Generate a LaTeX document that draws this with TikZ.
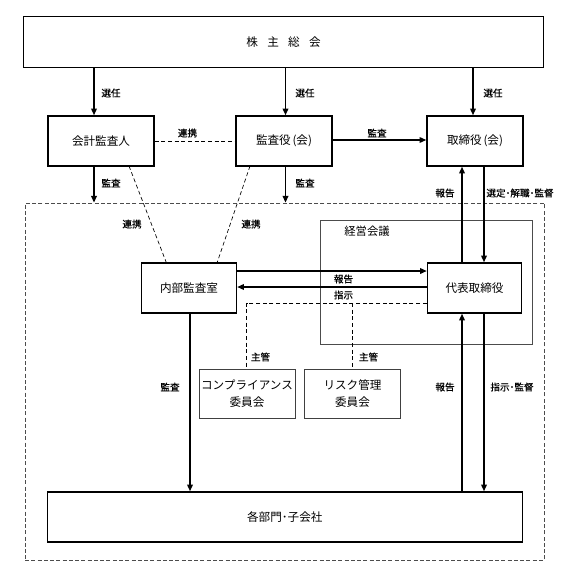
\documentclass[tikz,border=0pt]{standalone}
\usepackage{fontspec}
\newfontfamily\jp{Noto Sans CJK JP}
\newfontfamily\jpb[FakeBold=0.6]{Noto Sans CJK JP}
\usetikzlibrary{arrows.meta}
\begin{document}
\begin{tikzpicture}[x=0.75pt,y=-0.75pt,
 box/.style={draw, line width=1.1pt, rectangle, inner sep=0pt, font=\jp\fontsize{8.7}{11}\selectfont, align=center},
 sbox/.style={draw=black!75, line width=0.6pt, rectangle, inner sep=0pt, font=\jp\fontsize{8.7}{12.5}\selectfont, align=center},
 lbl/.style={font=\jpb\fontsize{7.2}{8.5}\selectfont, inner sep=1pt},
 arr/.style={line width=1.1pt, -{Triangle[length=5pt,width=4.2pt]}},
 dsh/.style={line width=0.5pt, dash pattern=on 3pt off 2pt},
 grp/.style={draw=black!70, line width=0.6pt, dash pattern=on 3pt off 1.7pt},
]
\useasboundingbox (0,0) rectangle (567,567);
% groups
\node[grp, rectangle, minimum width=389.6pt, minimum height=267.75pt, inner sep=0pt] (grp) at (284.75,381.5) {};
\node[draw=black!70, line width=0.6pt, rectangle, minimum width=159.2pt, minimum height=93pt, inner sep=0pt] (mtg) at (426.5,282) {};
\node[lbl, font=\jp\fontsize{8.5}{10}\selectfont] (mtgl) at (367,231) {経営会議};
% boxes
\node[box, minimum width=390pt, minimum height=38.25pt] (gm) at (283.5,42) {株\hspace{0.8em}主\hspace{0.8em}総\hspace{0.8em}会};
\node[box, minimum width=79.5pt, minimum height=37.5pt] (ka) at (101,141) {会計監査人};
\node[box, minimum width=72pt, minimum height=37.5pt] (ks) at (284,141) {監査役\kern0.15em(会)};
\node[box, minimum width=72pt, minimum height=37.5pt] (tr) at (475,141) {取締役\kern0.15em(会)};
\node[box, minimum width=71.25pt, minimum height=37.5pt] (nb) at (189,288) {内部監査室};
\node[box, minimum width=70.5pt, minimum height=37.5pt] (dh) at (474.5,288) {代表取締役};
\node[sbox, minimum width=72pt, minimum height=36.75pt] (cp) at (247,393.5) {コンプライアンス\\委員会};
\node[sbox, minimum width=72pt, minimum height=36.75pt] (rk) at (352.5,393.5) {リスク管理\\委員会};
\node[box, minimum width=356.25pt, minimum height=37.5pt] (bu) at (284.75,517) {各部門･子会社};
% x positions
\coordinate (x1) at (94,0);
\coordinate (x2) at (285.5,0);
\coordinate (x3) at (473,0);
\coordinate (x4) at (462,0);
\coordinate (x5) at (484,0);
\coordinate (x6) at (190,0);
\coordinate (xc) at (246.5,0);
\coordinate (xr) at (352,0);
\coordinate (yt) at (0,271);
\coordinate (yb) at (0,287);
\coordinate (yd) at (0,303);
\coordinate (yk) at (0,140);
% selection
\draw[arr] (gm.south -| x1) -- (ka.north -| x1);
\draw[arr] (gm.south -| x2) -- (ks.north -| x2);
\draw[arr] (gm.south -| x3) -- (tr.north -| x3);
\node[lbl] (s1) at (111,93) {選任};
\node[lbl] (s2) at (305,93) {選任};
\node[lbl] (s3) at (493,93) {選任};
% renkei
\draw[dsh] (ka.east) -- (ks.west);
\node[lbl] (r1) at (187.5,133) {連携};
\draw[arr] (ks.east |- yk) -- (tr.west |- yk);
\node[lbl] (k1) at (377,133) {監査};
% audit down
\draw[arr] (ka.south -| x1) -- (grp.north -| x1);
\draw[arr] (ks.south -| x2) -- (grp.north -| x2);
\node[lbl] (k2) at (111,183) {監査};
\node[lbl] (k3) at (305,183) {監査};
% renkei to internal audit
\coordinate (ra) at (129,166);
\coordinate (rb) at (166.5,263);
\coordinate (rc) at (250,166);
\coordinate (rd) at (217,263);
\draw[dsh] (ra) -- (rb);
\draw[dsh] (rc) -- (rd);
\node[lbl] (r2) at (132,224) {連携};
\node[lbl] (r3) at (251,224) {連携};
% board <-> rep
\draw[arr] (dh.north -| x4) -- (tr.south -| x4);
\draw[arr] (tr.south -| x5) -- (dh.north -| x5);
\node[lbl] (h1) at (445,193) {報告};
\node[lbl] (h2) at (520,193) {選定･解職･監督};
% internal <-> rep
\draw[arr] (nb.east |- yt) -- (dh.west |- yt);
\draw[arr] (dh.west |- yb) -- (nb.east |- yb);
\node[lbl] (h3) at (343.5,279) {報告};
\node[lbl] (h4) at (343.5,295) {指示};
% shukan
\draw[dsh] (dh.west |- yd) -- (xc |- yd) -- (cp.north -| xc);
\draw[dsh] (xr |- yd) -- (rk.north -| xr);
\node[lbl] (m1) at (260.5,357) {主管};
\node[lbl] (m2) at (368.5,357) {主管};
% to departments
\draw[arr] (nb.south -| x6) -- (bu.north -| x6);
\node[lbl] (k4) at (170,387) {監査};
\draw[arr] (bu.north -| x4) -- (dh.south -| x4);
\draw[arr] (dh.south -| x5) -- (bu.north -| x5);
\node[lbl] (h5) at (445,387) {報告};
\node[lbl] (h6) at (512,387) {指示･監督};
\end{tikzpicture}
\end{document}
